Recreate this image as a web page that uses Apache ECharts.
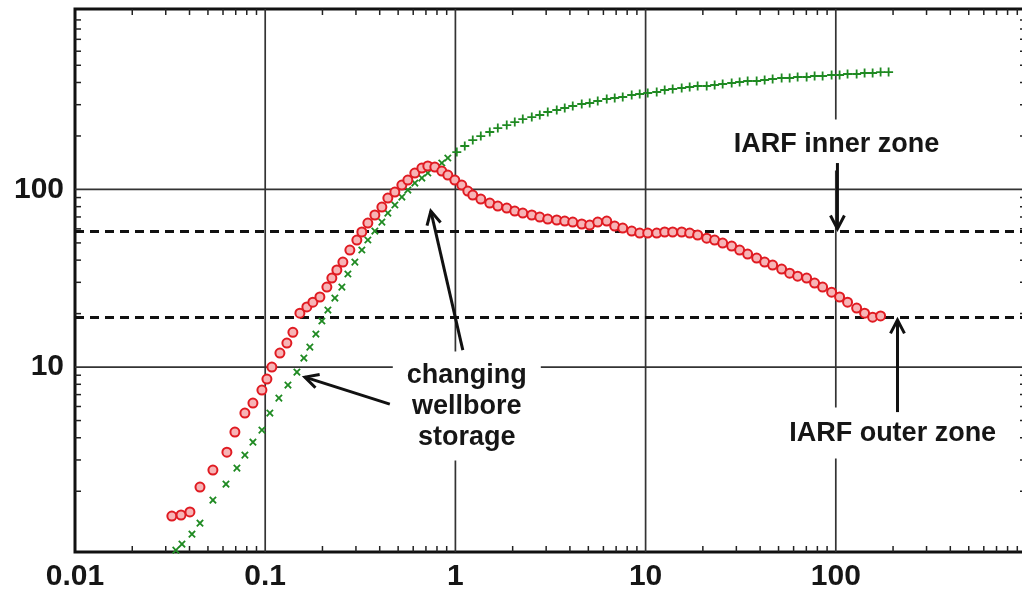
<!DOCTYPE html>
<html>
<head>
<meta charset="utf-8">
<script src="https://cdn.jsdelivr.net/npm/echarts@6/dist/echarts.min.js"></script>
<style>
html,body{margin:0;padding:0;background:#fff;}
#chart{width:1022px;height:597px;}
</style>
</head>
<body>
<div id="chart"></div>
<script>
// ---- data ----
const xTickLabels = ['0.01', '0.1', '1', '10', '100'];
const yTickLabels = ['10', '100'];
const xMajor = [0.1, 1, 10, 100];
const yMajor = [10, 100];
const iarfLevels = [58, 19];

// derivative (red circles)
const redX = [0.0323,0.0361,0.0402,0.0454,0.0531,0.0629,0.0693,0.0782,0.0862,0.0961,0.1021,0.1084,0.1195,0.130,0.1398,0.1522,0.1656,0.1781,0.1939,0.2110,0.2241,0.2381,0.2561,0.2787,0.3033,0.3222,0.3465,0.3772,0.4106,0.4414,0.4805,0.5230,0.5623,0.6119,0.6661,0.7161,0.7795,0.8483,0.9123,0.9929,1.080,1.162,1.234,1.360,1.516,1.671,1.862,2.052,2.261,2.521,2.777,3.059,3.411,3.757,4.140,4.616,5.084,5.602,6.247,6.880,7.582,8.451,9.311,10.26,11.44,12.60,13.88,15.48,17.05,18.78,20.95,23.07,25.42,28.35,31.22,34.40,38.36,42.26,46.55,51.91,57.20,63.00,70.25,77.37,85.25,95.06,104.7,115.3,128.7,141.7,156.2,172.0];
const redY = [1.45,1.47,1.53,2.11,2.63,3.32,4.31,5.51,6.27,7.42,8.56,10.0,12.0,13.65,15.7,20.1,21.8,23.2,24.8,28.2,31.7,35.2,39.0,45.6,51.9,57.6,64.7,71.8,79.6,89.4,96.7,105.9,113.0,123.7,132.0,135.5,133.7,126.9,120.5,113.0,105.9,97.9,93.0,88.3,83.8,80.6,78.6,75.6,73.6,71.8,69.9,68.1,67.3,66.4,65.5,63.9,63.0,65.5,66.4,62.2,60.6,58.3,56.8,56.8,56.8,57.6,57.6,57.6,56.8,55.4,53.2,51.9,49.9,48.0,45.6,43.3,41.1,39.0,37.5,35.6,33.8,32.5,31.7,29.7,28.2,26.4,24.8,23.2,21.5,20.1,19.1,19.4];

// pressure change (green crosses)
const greenX = [0.0339,0.0365,0.0412,0.0454,0.0531,0.0622,0.0710,0.0782,0.0862,0.0961,0.1058,0.1180,0.1317,0.1468,0.1597,0.1717,0.1847,0.1986,0.2136,0.2324,0.2530,0.2721,0.2961,0.3222,0.3465,0.3772,0.4106,0.4414,0.4805,0.5230,0.5623,0.6119,0.6661,0.7161,0.7795,0.8483,0.9123,1.017,1.120,1.234,1.360,1.516,1.671,1.862,2.052,2.261,2.521,2.777,3.059,3.411,3.757,4.140,4.616,5.084,5.602,6.247,6.880,7.582,8.451,9.311,10.26,11.44,12.60,13.88,15.48,17.05,18.78,20.95,23.07,25.42,28.35,31.22,34.40,38.36,42.26,46.55,51.91,57.20,63.00,70.25,77.37,85.25,95.06,104.7,115.3,128.7,141.7,156.2,172.0,189.5];
const greenY = [0.932,1.008,1.147,1.323,1.783,2.194,2.700,3.196,3.780,4.419,5.51,6.69,7.92,9.37,11.24,12.96,15.34,18.16,20.94,24.46,28.2,33.4,39.0,45.6,51.9,58.3,65.5,73.6,81.7,90.6,99.2,108.6,115.9,123.7,132.0,140.8,150.3,162.4,175.6,189.7,199.7,210.5,221.6,230.4,239.6,249.1,255.6,262.4,272.8,280.0,287.3,294.9,302.6,306.6,314.6,322.9,327.1,331.4,340.1,344.5,349.0,353.6,362.9,367.7,372.4,377.3,382.2,382.2,387.2,392.3,397.4,402.5,407.8,407.8,413.1,418.5,424.0,424.0,429.5,429.5,435.1,435.1,440.8,440.8,446.5,446.5,452.3,452.3,458.1,458.1];

// annotations (data coordinates)
const noteTexts = ['IARF inner zone', 'IARF outer zone', 'changing\nwellbore\nstorage'];
const noteX = [101, 199, 1.148];
const noteY = [178, 4.25, 6.03];
const arrowFrom = [[1.094, 12.46], [0.452, 6.19], [102, 140.8], [211, 5.58]];
const arrowTo = [[0.7427, 75.6], [0.1617, 8.78], [102, 60], [211, 18.4]];

// ---- build ----
const X_MIN = 0.01, X_MAX = 1000, Y_MIN = 0.91, Y_MAX = 1037;
const redData = redX.map((x, i) => [x, redY[i]]);
const greenData = greenX.map((x, i) => [x, greenY[i]]);

const frameItems = [];
xMajor.forEach(v => frameItems.push([v, 10, 0]));
yMajor.forEach(v => frameItems.push([1, v, 1]));
iarfLevels.forEach(v => frameItems.push([1, v, 2]));
for (let e = -2; e <= 2; e++) for (let m = 2; m <= 9; m++) frameItems.push([m * Math.pow(10, e), 10, 3]);
for (let e = 0; e <= 2; e++) for (let m = 2; m <= 9; m++) frameItems.push([1, m * Math.pow(10, e), 4]);

const arrowItems = arrowFrom.map((p, i) => [p[0], p[1], arrowTo[i][0], arrowTo[i][1]]);
const notePads = [[10, 8], [10, 8], [8, 14]];
const noteItems = noteTexts.map((t, i) => ({
  value: [noteX[i], noteY[i]], name: t,
  label: { padding: notePads[i] }
}));

function labelFor(list) {
  return function (v) {
    const e = Math.log10(v);
    for (const s of list) if (Math.abs(Math.log10(parseFloat(s)) - e) < 1e-6) return s;
    return '';
  };
}

function renderFrame(params, api) {
  const kind = api.value(2);
  const cs = params.coordSys;
  const L = cs.x, R = cs.x + cs.width, T = cs.y, B = cs.y + cs.height;
  if (kind === 0) {
    const px = api.coord([api.value(0), 10])[0];
    return { type: 'line', shape: { x1: px, y1: T, x2: px, y2: B }, style: { stroke: '#333', lineWidth: 1.7 } };
  }
  if (kind === 1 || kind === 2) {
    const py = api.coord([1, api.value(1)])[1];
    return { type: 'line', shape: { x1: L, y1: py, x2: R, y2: py },
      style: kind === 1 ? { stroke: '#333', lineWidth: 1.7 } : { stroke: '#111', lineWidth: 3, lineDash: [9, 6] } };
  }
  if (kind === 3) {
    const px = api.coord([api.value(0), 10])[0];
    return { type: 'group', children: [
      { type: 'line', shape: { x1: px, y1: B, x2: px, y2: B - 6 }, style: { stroke: '#222', lineWidth: 1.5 } },
      { type: 'line', shape: { x1: px, y1: T, x2: px, y2: T + 6 }, style: { stroke: '#222', lineWidth: 1.5 } }
    ] };
  }
  const py = api.coord([1, api.value(1)])[1];
  return { type: 'group', children: [
    { type: 'line', shape: { x1: L, y1: py, x2: L + 6, y2: py }, style: { stroke: '#222', lineWidth: 1.5 } },
    { type: 'line', shape: { x1: R, y1: py, x2: R - 6, y2: py }, style: { stroke: '#222', lineWidth: 1.5 } }
  ] };
}

function renderArrow(params, api) {
  const p1 = api.coord([api.value(0), api.value(1)]);
  const p2 = api.coord([api.value(2), api.value(3)]);
  const ang = Math.atan2(p2[1] - p1[1], p2[0] - p1[0]);
  const len = 15, a = Math.PI / 6.5;
  const h1 = [p2[0] - len * Math.cos(ang - a), p2[1] - len * Math.sin(ang - a)];
  const h2 = [p2[0] - len * Math.cos(ang + a), p2[1] - len * Math.sin(ang + a)];
  return { type: 'group', children: [
    { type: 'line', shape: { x1: p1[0], y1: p1[1], x2: p2[0], y2: p2[1] }, style: { stroke: '#111', lineWidth: 3 } },
    { type: 'polyline', shape: { points: [h1, p2, h2] }, style: { stroke: '#111', lineWidth: 3, fill: null, lineJoin: 'miter' } }
  ] };
}

const FONT = '"Liberation Sans", Arial, Helvetica, sans-serif';
const chart = echarts.init(document.getElementById('chart'), null, { renderer: 'canvas' });
chart.setOption({
  animation: false,
  backgroundColor: '#fff',
  grid: { left: 75, top: 9, width: 951, height: 543, show: true, borderColor: '#111', borderWidth: 3,
          backgroundColor: 'transparent', containLabel: false, outerBoundsMode: 'none' },
  xAxis: {
    type: 'log', logBase: 10, min: X_MIN, max: X_MAX,
    axisLine: { show: false }, axisTick: { show: false }, splitLine: { show: false },
    axisLabel: { formatter: labelFor(xTickLabels), fontSize: 30, fontWeight: 'bold', color: '#161616',
                 fontFamily: FONT, margin: 10, hideOverlap: false, showMinLabel: true }
  },
  yAxis: {
    type: 'log', logBase: 10, min: Y_MIN, max: Y_MAX,
    axisLine: { show: false }, axisTick: { show: false }, splitLine: { show: false },
    axisLabel: { formatter: labelFor(yTickLabels), fontSize: 30, fontWeight: 'bold', color: '#161616',
                 fontFamily: FONT, margin: 11, hideOverlap: false }
  },
  series: [
    { type: 'custom', name: 'frame', z: 1, silent: true, renderItem: renderFrame, data: frameItems,
      encode: { x: 0, y: 1 }, clip: false },
    { type: 'scatter', name: 'pressure', z: 3, data: greenData,
      symbol: 'path://M4,0H6V4H10V6H6V10H4V6H0V4H4Z', symbolSize: 9,
      symbolRotate: function (v) { return v[0] < 1 ? 45 : 0; },
      itemStyle: { color: '#1f8a22', opacity: 1 } },
    { type: 'scatter', name: 'derivative', z: 4, data: redData, symbol: 'circle', symbolSize: 9,
      itemStyle: { color: '#f7b4b6', borderColor: '#e01b22', borderWidth: 2, opacity: 1 } },
    { type: 'scatter', name: 'notes', z: 5, silent: true, data: noteItems, symbolSize: 0,
      itemStyle: { opacity: 1 },
      label: { show: true, position: 'inside', formatter: '{b}', fontSize: 27, fontWeight: 'bold',
               fontFamily: FONT, color: '#161616', opacity: 1, backgroundColor: '#fff', lineHeight: 31,
               align: 'center', verticalAlign: 'middle' } },
    { type: 'custom', name: 'arrows', z: 6, silent: true, renderItem: renderArrow, data: arrowItems,
      encode: { x: [0, 2], y: [1, 3] }, clip: false }
  ]
});
</script>
</body>
</html>
